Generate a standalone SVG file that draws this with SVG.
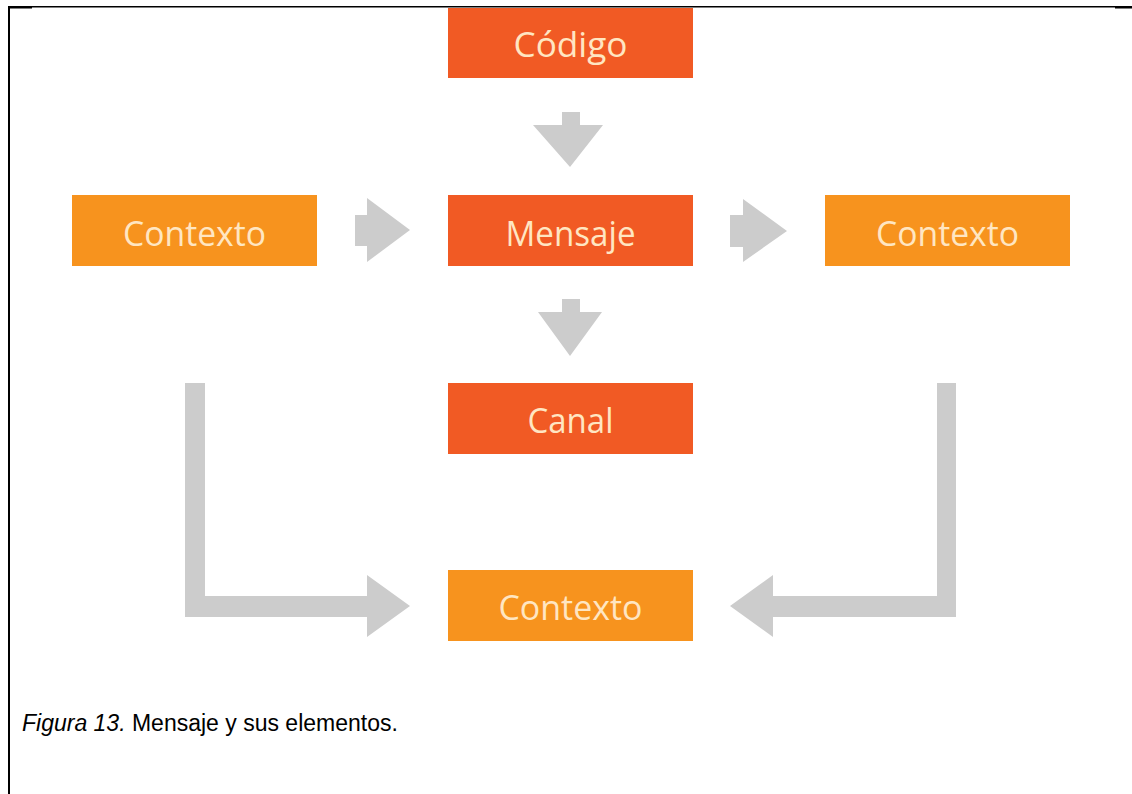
<svg xmlns="http://www.w3.org/2000/svg" width="1132" height="794" viewBox="0 0 1132 794">
<style>
.red{fill:#F15A24}
.org{fill:#F7931E}
.lbl{font-family:"Open Sans","Noto Sans",sans-serif;font-size:35px;fill:#FFE6C2;text-anchor:middle}
.arr{fill:#CCCCCC}
.cap{font-family:"Liberation Sans",Arial,sans-serif;font-size:23px;fill:#000}
</style>
<rect width="1132" height="794" fill="#fff"/>
<g id="frame">
<rect x="8" y="6" width="1124" height="1.5" fill="#000"/>
<rect x="8" y="6" width="24" height="2.5" fill="#000"/>
<rect x="1115" y="6" width="17" height="2.5" fill="#000"/>
<rect x="8" y="6" width="2" height="788" fill="#000"/>
</g>
<g id="connectors">
<path class="arr" d="M562,112 H580 V125 H603 L570,167 L533,125 H562 Z"/>
<path class="arr" d="M562,299 H580 V312 H602 L570,356 L538,312 H562 Z"/>
<path class="arr" d="M355,215 H367 V198 L410,230 L367,262 V246 H355 Z"/>
<path class="arr" d="M730,215 H743 V199 L787,231 L743,262 V247 H730 Z"/>
<path class="arr" d="M185,383 H205 V596 H367 V575 L410,606 L367,637 V617 H185 Z"/>
<path class="arr" d="M937,383 H956 V617 H773 V637 L730,606 L773,575 V596 H937 Z"/>
</g>
<g id="codigo">
<rect class="red" x="448" y="8" width="245" height="70"/>
<text class="lbl" x="570.5" y="57" textLength="114" lengthAdjust="spacingAndGlyphs">Código</text>
</g>
<g id="contexto-izq">
<rect class="org" x="72" y="195" width="245" height="71"/>
<text class="lbl" x="194.5" y="246" textLength="143" lengthAdjust="spacingAndGlyphs">Contexto</text>
</g>
<g id="mensaje">
<rect class="red" x="448" y="195" width="245" height="71"/>
<text class="lbl" x="570.5" y="246" textLength="130" lengthAdjust="spacingAndGlyphs">Mensaje</text>
</g>
<g id="contexto-der">
<rect class="org" x="825" y="195" width="245" height="71"/>
<text class="lbl" x="947.5" y="246" textLength="143" lengthAdjust="spacingAndGlyphs">Contexto</text>
</g>
<g id="canal">
<rect class="red" x="448" y="383" width="245" height="71"/>
<text class="lbl" x="570.5" y="433" textLength="86" lengthAdjust="spacingAndGlyphs">Canal</text>
</g>
<g id="contexto-abajo">
<rect class="org" x="448" y="570" width="245" height="71"/>
<text class="lbl" x="570.5" y="620" textLength="144" lengthAdjust="spacingAndGlyphs">Contexto</text>
</g>
<text class="cap" x="22" y="731"><tspan font-style="italic">Figura 13.</tspan> Mensaje y sus elementos.</text>
</svg>
